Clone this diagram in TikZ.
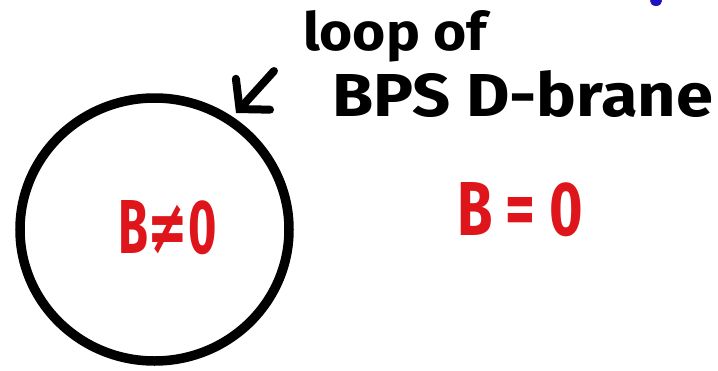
\documentclass[tikz,border=0pt]{standalone}
\usepackage{fontspec}
\usepackage{graphicx}
\setmainfont{Fira Sans}
\newfontfamily\symfont{DejaVu Sans}
\usetikzlibrary{arrows.meta}
\definecolor{penred}{RGB}{222,22,28}
\definecolor{penblue}{RGB}{30,20,190}
\begin{document}
\begin{tikzpicture}[x=1pt,y=-1pt,
  hand/.style={inner sep=0pt, outer sep=0pt, font=\bfseries, anchor=base west},
  redhand/.style={hand, text=penred},
  pen/.style={line width=9.5pt, line cap=round},
  pointer/.style={line width=8pt, line cap=round, -{Straight Barb[length=20pt,width=46pt,line cap=round]}}]
\useasboundingbox (0,0) rectangle (718,370);
% loop (brane)
\draw[pen] (154.5,229.5) ellipse [x radius=134.5, y radius=131.5];
% labels
\node[hand] (loop) at (303,50) {\resizebox{184pt}{40pt}{loop of}};
\node[hand] (bps) at (332,116) {\resizebox{381pt}{46pt}{BPS D-brane}};
\node[redhand] (bne) at (118,253) {\resizebox{99pt}{53pt}{B{\symfont ≠}0}};
\node[redhand] (beq) at (457,235) {\resizebox{126pt}{53pt}{B = 0}};
% arrow
\coordinate (atail) at (274,71);
\coordinate (atip) at (236,113);
\draw[pointer] (atail) -- (atip);
% blue mark at top edge
\fill[penblue] (656,1) ellipse [x radius=6, y radius=5];
\end{tikzpicture}
\end{document}
